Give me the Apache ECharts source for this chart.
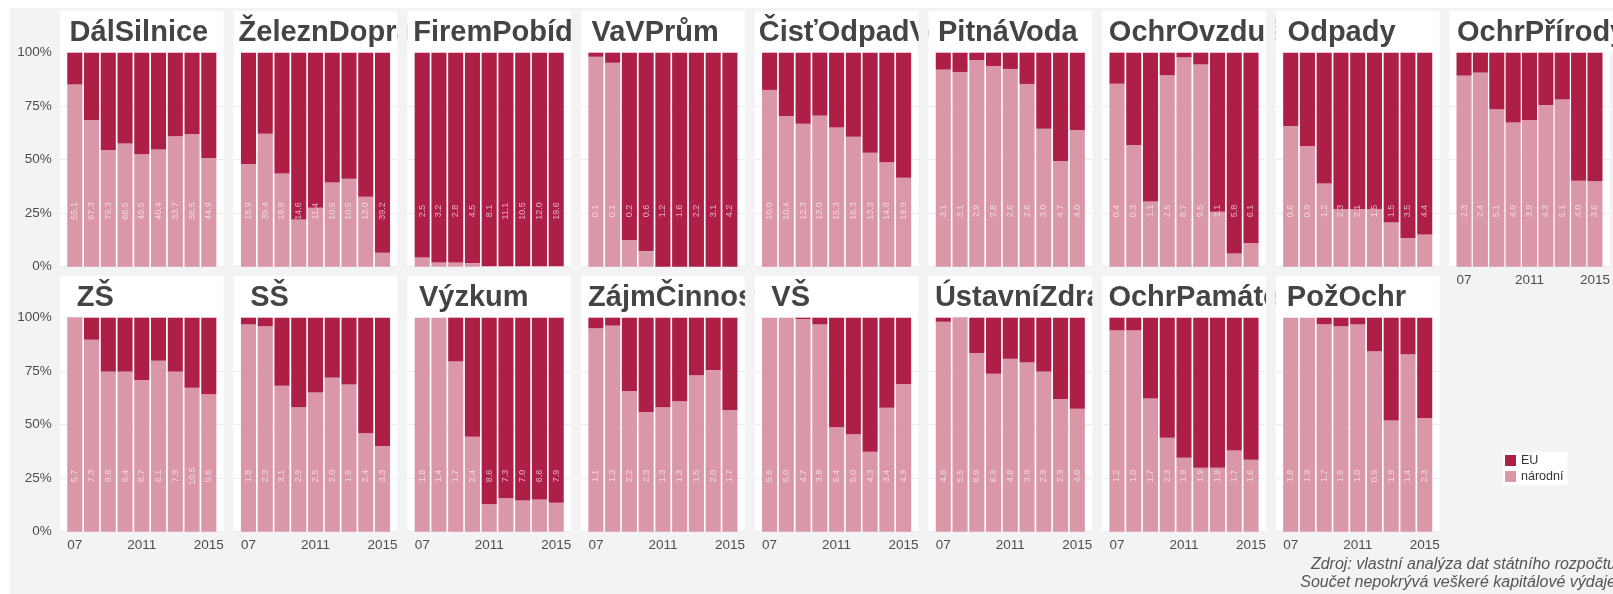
<!DOCTYPE html>
<html>
<head>
<meta charset="utf-8">
<script src="https://cdn.jsdelivr.net/npm/echarts@6/dist/echarts.min.js"></script>
<style>
html, body { margin: 0; padding: 0; background: #fff; }
#bg { position: absolute; left: 10px; top: 8px; width: 1603px; height: 586px; background: #f3f3f3; }
#main { position: absolute; left: 0; top: 0; width: 1613px; height: 594px; }
</style>
</head>
<body>
<div id="bg"></div>
<div id="main"></div>
<script>
var years = [2007, 2008, 2009, 2010, 2011, 2012, 2013, 2014, 2015];
var xTicks = [2007, 2011, 2015];

var panelNames = ['DálSilnice', 'ŽeleznDoprava', 'FiremPobídky', 'VaVPrům', 'ČisťOdpadVody',
    'PitnáVoda', 'OchrOvzduší', 'Odpady', 'OchrPřírody',
    'ZŠ', 'SŠ', 'Výzkum', 'ZájmČinnost', 'VŠ', 'ÚstavníZdrav', 'OchrPamátek', 'PožOchr'];

// podíl národních zdrojů (%)
var narodniPct = [
    [85.2, 68.5, 54.5, 57.6, 52.5, 54.8, 60.9, 62.0, 50.8],
    [48.0, 62.1, 43.6, 22.1, 27.6, 39.3, 41.1, 32.7, 6.5],
    [4.3, 2.0, 2.0, 1.7, 0.3, 0.3, 0.3, 0.3, 0.3],
    [98.1, 95.3, 12.5, 7.3, 0, 0, 0, 0, 0],
    [82.6, 70.4, 66.8, 70.6, 65.1, 60.7, 53.3, 48.8, 41.6],
    [92.1, 91.0, 96.6, 93.8, 92.4, 85.4, 64.5, 49.4, 63.9],
    [85.5, 56.9, 30.5, 89.4, 97.8, 94.5, 25.7, 6.2, 10.9],
    [65.7, 56.4, 38.9, 26.8, 26.8, 26.8, 20.6, 13.4, 15.1],
    [89.3, 90.7, 73.5, 67.4, 68.5, 75.5, 78.2, 40.2, 39.9],
    [99.8, 89.7, 74.8, 74.8, 70.9, 79.9, 74.8, 67.3, 64.2],
    [96.9, 96.0, 68.2, 58.1, 65.0, 72.0, 68.8, 46.0, 40.0],
    [100, 100, 79.6, 44.4, 12.8, 15.6, 14.6, 15.1, 13.5],
    [95.0, 96.3, 65.7, 55.9, 58.1, 60.9, 73.1, 75.5, 56.9],
    [100, 100, 99.4, 96.9, 48.8, 45.5, 37.4, 57.9, 69.0],
    [98.1, 99.8, 83.5, 73.8, 80.8, 79.1, 74.8, 62.0, 57.5],
    [94.1, 94.1, 62.3, 43.9, 34.6, 29.9, 29.9, 38.0, 33.6],
    [100, 100, 97.0, 96.0, 96.9, 84.3, 52.0, 82.9, 53.1]
];

// celkový objem (popisky ve sloupcích)
var totals = [
    [55.1, 67.3, 79.3, 68.5, 49.5, 40.4, 33.7, 36.5, 44.9],
    [18.9, 39.4, 19.8, 14.6, 11.4, 10.5, 10.5, 13.0, 39.2],
    [2.5, 3.2, 2.8, 4.5, 8.1, 11.1, 10.5, 12.0, 19.6],
    [0.1, 0.1, 0.2, 0.6, 1.2, 1.6, 2.2, 3.1, 4.2],
    [10.0, 10.4, 12.3, 13.0, 15.3, 16.3, 13.3, 14.8, 19.9],
    [3.1, 3.1, 2.9, 2.8, 2.6, 2.6, 3.0, 4.7, 4.0],
    [0.4, 0.3, 1.1, 2.5, 8.7, 9.5, 2.1, 5.8, 6.1],
    [0.6, 0.9, 1.2, 2.3, 2.1, 1.5, 1.5, 3.5, 4.4],
    [2.3, 2.4, 5.1, 4.9, 3.9, 4.3, 5.1, 4.0, 3.6],
    [5.7, 7.3, 9.8, 9.4, 8.7, 6.1, 7.9, 10.5, 9.6],
    [1.8, 2.3, 3.1, 2.9, 2.5, 2.0, 1.6, 2.4, 3.3],
    [1.8, 1.4, 1.7, 2.4, 8.6, 7.3, 7.0, 6.6, 7.9],
    [1.1, 1.3, 2.2, 2.3, 1.3, 1.3, 1.5, 2.0, 1.7],
    [5.6, 5.0, 4.7, 3.8, 5.4, 5.0, 4.3, 3.4, 4.9],
    [4.6, 5.5, 6.9, 6.9, 4.8, 3.9, 2.9, 2.9, 4.0],
    [1.2, 1.0, 1.7, 2.3, 1.9, 1.9, 1.9, 1.7, 1.6],
    [1.8, 1.9, 1.7, 1.6, 1.0, 0.9, 1.9, 1.4, 2.3]
];

var captionLines = ['Zdroj: vlastní analýza dat státního rozpočtu', 'Součet nepokrývá veškeré kapitálové výdaje'];

var chart = echarts.init(document.getElementById('main'));
var FONT = '"Liberation Sans", Arial, sans-serif';
var TITLE_FONT = 'bold 29px ' + FONT;
var EU_COLOR = '#ae1f48';
var NAR_COLOR = '#d997a8';
var BG = '#f3f3f3';

var left0 = 59.8, pitch = 173.7, panelW = 164;
var stripTops = [11, 276], stripH = 41.7, plotH = 214;
var xMin = 2006.105, xMax = 2015.895;
var barW = panelW * 0.9 / (xMax - xMin);

var ctx = document.createElement('canvas').getContext('2d');
ctx.font = TITLE_FONT;

var grids = [], xAxes = [], yAxes = [], series = [], graphics = [], covers = [];

panelNames.forEach(function (name, i) {
    var row = i < 9 ? 0 : 1;
    var col = i < 9 ? i : i - 9;
    var L = left0 + col * pitch;
    var top = stripTops[row] + stripH;
    var showX = row === 1 || i === 8;

    grids.push({
        left: L, top: top, width: panelW, height: plotH,
        show: true, backgroundColor: '#fff', borderWidth: 0
    });
    xAxes.push({
        gridIndex: i, type: 'value', min: xMin, max: xMax,
        axisLine: { show: false }, axisTick: { show: false }, splitLine: { show: false },
        axisLabel: {
            show: showX, customValues: xTicks, margin: 7,
            color: '#4d4d4d', fontSize: 13.5, fontFamily: FONT,
            formatter: function (v) { return v === 2007 ? '07' : String(v); }
        }
    });
    yAxes.push({
        gridIndex: i, type: 'value', min: 0, max: 100, interval: 25,
        axisLine: { show: false }, axisTick: { show: false },
        splitLine: { lineStyle: { color: '#ececec', width: 1 } },
        axisLabel: { show: col === 0, formatter: '{value}%', color: '#4d4d4d', fontSize: 13.5, fontFamily: FONT, margin: 8 }
    });

    // value first, year second, so the stack runs on the value
    series.push({
        name: 'národní', type: 'bar', xAxisIndex: i, yAxisIndex: i, stack: 's' + i,
        encode: { x: 1, y: 0 }, barWidth: barW, itemStyle: { color: NAR_COLOR },
        data: years.map(function (y, j) { return [narodniPct[i][j], y]; })
    });
    series.push({
        name: 'EU', type: 'bar', xAxisIndex: i, yAxisIndex: i, stack: 's' + i,
        encode: { x: 1, y: 0 }, barWidth: barW, itemStyle: { color: EU_COLOR },
        data: years.map(function (y, j) { return [100 - narodniPct[i][j], y]; })
    });
    series.push({
        type: 'scatter', xAxisIndex: i, yAxisIndex: i, symbolSize: 0, silent: true, z: 5,
        label: {
            show: true, position: 'inside', rotate: 90,
            color: 'rgba(255,255,255,0.8)', fontSize: 9, fontFamily: FONT,
            formatter: function (p) { return p.data[2].toFixed(1); }
        },
        data: years.map(function (y, j) { return [y, 26, totals[i][j]]; })
    });

    // strip: each next strip is stacked higher and hides the previous overflow
    var tw = ctx.measureText(name).width;
    var off = 8 + 0.07 * (panelW - tw);
    graphics.push({
        type: 'rect', z2: 2 * i + 1, shape: { x: L, y: stripTops[row], width: panelW, height: stripH },
        style: { fill: '#fff' }, silent: true
    });
    graphics.push({
        type: 'text', z2: 2 * i + 2, x: L + off, y: stripTops[row] + stripH / 2 + 1, silent: true,
        style: { text: name, font: TITLE_FONT, fill: '#444', verticalAlign: 'middle' }
    });
    covers.push({
        type: 'rect', z2: 100, silent: true,
        shape: { x: L + panelW, y: stripTops[row] - 2, width: pitch - panelW, height: stripH + 2 },
        style: { fill: BG }
    });
});

captionLines.forEach(function (t, k) {
    graphics.push({
        type: 'text', x: 1616, y: 565 + k * 17.5, silent: true,
        style: { text: t, font: 'italic 16px ' + FONT, fill: '#555', align: 'right', verticalAlign: 'middle' }
    });
});

chart.setOption({
    animation: false,
    grid: grids,
    xAxis: xAxes,
    yAxis: yAxes,
    legend: {
        data: ['EU', 'národní'], orient: 'vertical', left: 1503, top: 452,
        itemWidth: 11, itemHeight: 11, itemGap: 3, icon: 'rect',
        backgroundColor: '#fff', padding: [2, 4, 2, 2],
        textStyle: { fontSize: 12.5, color: '#333', fontFamily: FONT }
    },
    graphic: graphics.concat(covers),
    series: series
});
</script>
</body>
</html>
